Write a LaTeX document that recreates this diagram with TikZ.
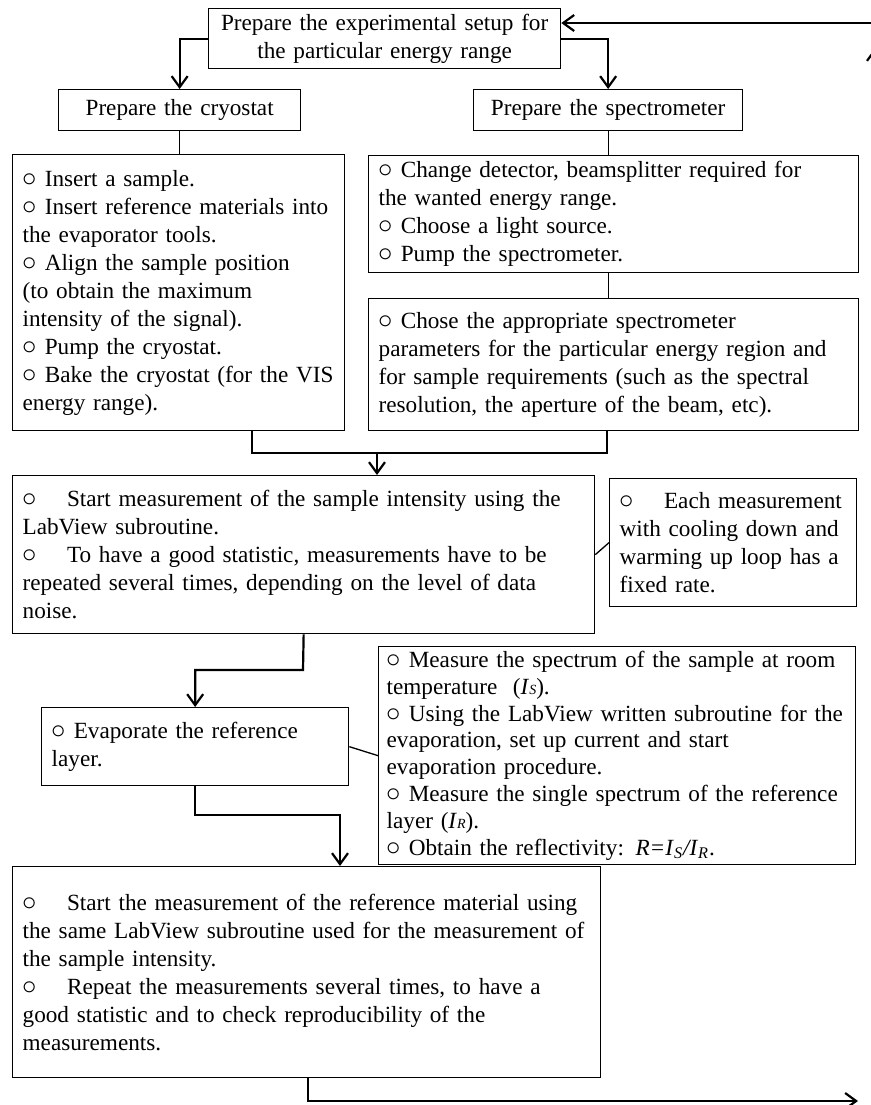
\documentclass[tikz,border=0pt]{standalone}
\usepackage{fontspec}
\setmainfont{Liberation Serif}
\usetikzlibrary{arrows.meta}
\newcommand{\bul}{\scalebox{1.2}{$\circ$}}
\newcommand{\tbul}{\bul\hspace{15pt}}
\begin{document}
\begin{tikzpicture}[x=0.5pt,y=-0.5pt,
    box/.style={draw,line width=0.65pt,anchor=north west,inner xsep=5pt,inner ysep=2pt,align=left,font=\fontsize{11.6}{14}\selectfont},
    flow/.style={line width=1.1pt,-{Straight Barb[length=5.5pt,width=8pt]}},
    link/.style={line width=1.1pt},
    thin/.style={line width=0.65pt}]
  \clip (0,0) rectangle (871,1105);
  \node[box,align=center,text width=166pt,minimum height=30pt] (setup) at (208,8) {Prepare the experimental setup for\\the particular energy range};
  \node[box,align=center,text width=111pt,minimum height=20.5pt] (cry) at (58,89) {Prepare the cryostat};
  \node[box,align=center,text width=124.5pt,minimum height=20.5pt] (spec) at (473,89) {Prepare the spectrometer};
  \node[box,text width=156pt,minimum height=138pt] (cryL) at (12,154) {\bul{} Insert a sample.\\
    \bul{} Insert reference materials into\\
    the evaporator tools.\\
    \bul{} Align the sample position\\
    (to obtain the maximum\\
    intensity of the signal).\\
    \bul{} Pump the cryostat.\\
    \bul{} Bake the cryostat (for the VIS\\
    energy range).};
  \node[box,text width=235pt,minimum height=58.5pt] (specA) at (368,155) {\bul{} Change detector, beamsplitter required for\\
    the wanted energy range.\\
    \bul{} Choose a light source.\\
    \bul{} Pump the spectrometer.};
  \node[box,text width=235pt,minimum height=66pt] (specB) at (368,298) {\bul{} Chose the appropriate spectrometer\\
    parameters for the particular energy region and\\
    for sample requirements (such as the spectral\\
    resolution, the aperture of the beam, etc).};
  \node[box,text width=281pt,minimum height=79pt] (meas) at (12,475) {\tbul Start measurement of the sample intensity using the\\
    LabView subroutine.\\
    \tbul To have a good statistic, measurements have to be\\
    repeated several times, depending on the level of data\\
    noise.};
  \node[box,text width=113.5pt,minimum height=64pt] (note) at (609,478) {\tbul Each measurement\\
    with cooling down and\\
    warming up loop has a\\
    fixed rate.};
  \node[box,text width=143.5pt,minimum height=39pt] (evap) at (41,707) {\bul{} Evaporate the reference\\
    layer.};
  \node[box,inner xsep=4pt,text width=230.5pt,minimum height=109pt,font=\fontsize{11.6}{13.4}\selectfont] (measR) at (378,646) {\bul{} Measure the spectrum of the sample at room\\
    temperature~~(\textit{I}{\scriptsize\textit{S}}).\\
    \bul{} Using the LabView written subroutine for the\\
    evaporation, set up current and start\\
    evaporation procedure.\\
    \bul{} Measure the single spectrum of the reference\\
    layer (\textit{I}{\scriptsize\textit{R}}).\\
    \bul{} Obtain the reflectivity: \textit{R=I}\textsubscript{\textit{S}}\textit{/I}\textsubscript{\textit{R}}.};
  \node[box,text width=284pt,minimum height=105.5pt] (last) at (12,866) {\tbul Start the measurement of the reference material using\\
    the same LabView subroutine used for the measurement of\\
    the sample intensity.\\
    \tbul Repeat the measurements several times, to have a\\
    good statistic and to check reproducibility of the\\
    measurements.};
  \coordinate (j1) at (252,453);
  \coordinate (j2) at (607,453);
  \coordinate (j0) at (377,453);
  \coordinate (k1) at (303,670);
  \coordinate (k2) at (340,815);
  \coordinate (k3) at (308,1101);
  \coordinate (back) at (858,1101);
  \coordinate (in) at (880,23);
  \coordinate (up) at (875,48);
  \draw[flow] (setup.west) -| (cry.north);
  \draw[flow] (setup.east) -| (spec.north);
  \draw[thin] (cry.south) -- (cry.south |- cryL.north);
  \draw[thin] (spec.south) -- (spec.south |- specA.north);
  \draw[thin] (spec.south |- specA.south) -- (spec.south |- specB.north);
  \draw[link] (j1 |- cryL.south) -- (j1) -- (j2) -- (j2 |- specB.south);
  \draw[flow] (j0) -- (j0 |- meas.north);
  \draw[thin] (meas.east) -- (note.west);
  \draw[flow] (meas.south) -- (k1) -| (evap.north);
  \draw[thin] (evap.east) -- (measR.west);
  \draw[flow] (evap.south) |- (k2) -- (k2 |- last.north);
  \draw[flow] (k3 |- last.south) -- (k3) -- (back);
  \draw[flow] (in) -- (in -| setup.east);
  \draw[flow] (up |- back) -- (up);
\end{tikzpicture}
\end{document}
